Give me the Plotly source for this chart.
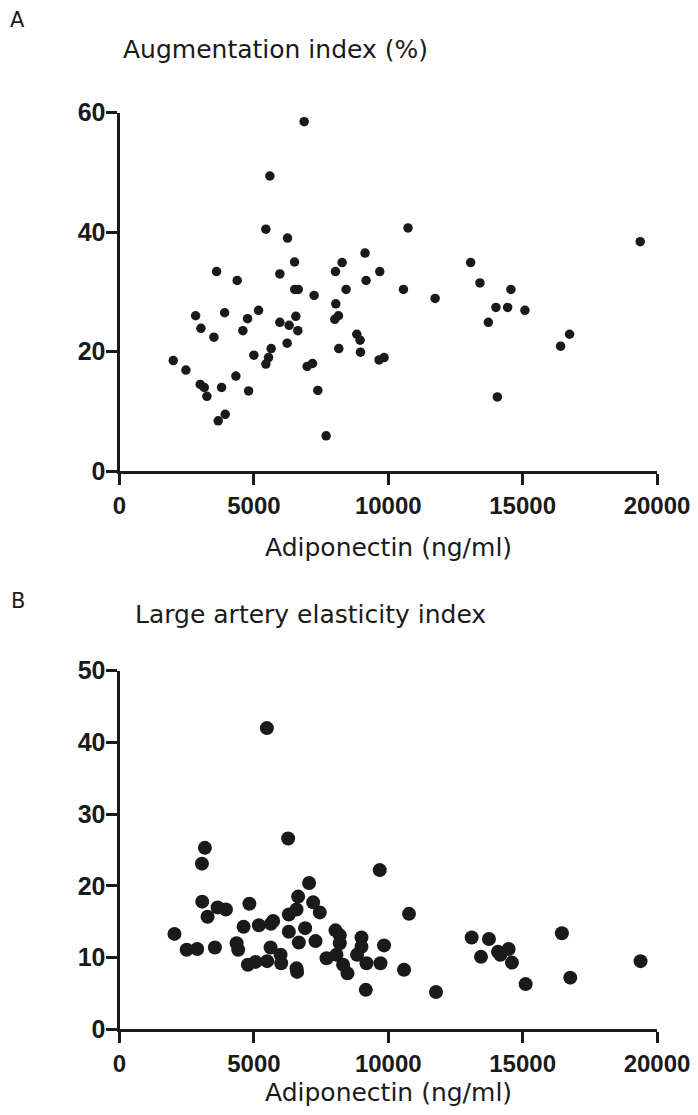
import plotly.graph_objects as go

# ---- Panel A: Augmentation index (%) vs Adiponectin (ng/ml)
adiponectin_a = [6870, 5595, 5446, 6252, 3613, 4380, 6513, 5967, 6520, 6650,
                 2833, 3911, 5174, 4766, 3030, 4591, 3513, 5967, 6312, 6561,
                 6636, 6238, 5643, 5546, 5446, 5000, 2000, 2472, 3004, 3153,
                 3253, 3799, 4331, 4803, 3934, 3673, 7242, 6981, 7182, 7379,
                 7688, 8037, 8283, 8432, 8048, 8011, 8148, 8160, 9138, 9175,
                 9684, 10565, 11744, 8829, 8952, 8967, 9658, 9844, 13067, 13413,
                 14007, 13725, 14059, 19375, 14565, 14442, 15086, 16747, 16413, 10736]
aix_a = [58.5, 49.4, 40.5, 39.0, 33.4, 31.9, 35.0, 33.0, 30.4, 30.4,
         26.0, 26.5, 26.9, 25.5, 23.9, 23.5, 22.4, 24.9, 24.4, 25.9,
         23.5, 21.4, 20.5, 19.0, 17.9, 19.4, 18.5, 16.9, 14.5, 14.0,
         12.5, 14.0, 15.9, 13.4, 9.5, 8.4, 29.4, 17.5, 18.0, 13.5,
         5.9, 33.4, 34.9, 30.4, 28.0, 25.4, 26.0, 20.5, 36.5, 31.9,
         33.4, 30.4, 28.9, 22.9, 21.9, 19.9, 18.6, 19.0, 34.9, 31.5,
         27.4, 24.9, 12.4, 38.4, 30.4, 27.4, 26.9, 22.9, 20.9, 40.7]

# ---- Panel B: Large artery elasticity index vs Adiponectin (ng/ml)
adiponectin_b = [5483, 6275, 3178, 3067, 3078, 3277, 3650, 3959, 4833, 2045,
                 2498, 2892, 3550, 4357, 4417, 4617, 5186, 5632, 5718, 5621,
                 4777, 5063, 5494, 5993, 6015, 6587, 6610, 6301, 6587, 6647,
                 6301, 6673, 9684, 10773, 7055, 7205, 7453, 6907, 7294, 8037,
                 8197, 7703, 8074, 8197, 8320, 8483, 9004, 9004, 8840, 9190,
                 9164, 9844, 9710, 10587, 11777, 13104, 13747, 13450, 14082, 14171,
                 14480, 14602, 16461, 15112, 16773, 19387]
laei_b = [42.0, 26.6, 25.3, 23.1, 17.8, 15.7, 17.0, 16.7, 17.5, 13.3,
          11.1, 11.2, 11.4, 12.0, 11.1, 14.3, 14.5, 14.7, 15.1, 11.4,
          9.0, 9.4, 9.5, 10.4, 9.2, 8.5, 8.0, 16.0, 16.7, 18.5,
          13.6, 12.1, 22.2, 16.1, 20.4, 17.7, 16.3, 14.1, 12.3, 13.8,
          13.1, 9.9, 10.4, 12.0, 9.0, 7.8, 12.8, 11.5, 10.4, 9.2,
          5.5, 11.7, 9.2, 8.3, 5.2, 12.8, 12.6, 10.1, 10.8, 10.4,
          11.2, 9.3, 13.4, 6.3, 7.2, 9.5]

x_ticks = [0, 5000, 10000, 15000, 20000]
y_ticks_a = [0, 20, 40, 60]
y_ticks_b = [0, 10, 20, 30, 40, 50]

# page has an 8px body margin: size the figure so it fits the 698x1115 window
OFF = 8
W, H = 698 - 2 * OFF, 1115 - 2 * OFF
INK = "#1a1a1a"
FONT = "DejaVu Sans"
TICKFONT = "Liberation Sans, Arial, sans-serif"


def px(rx):
    return (rx - OFF) / W


def py(ry):
    return 1 - (ry - OFF) / H


fig = go.Figure()
fig.add_trace(go.Scatter(x=adiponectin_a, y=aix_a, mode="markers",
                         marker=dict(size=9.5, color=INK), xaxis="x", yaxis="y",
                         showlegend=False))
fig.add_trace(go.Scatter(x=adiponectin_b, y=laei_b, mode="markers",
                         marker=dict(size=14, color=INK), xaxis="x2", yaxis="y2",
                         showlegend=False))

xdom = [px(119.5), px(657)]
common_axis = dict(showgrid=False, zeroline=False, showline=True, linecolor=INK,
                   linewidth=3, ticks="outside", ticklen=11, tickwidth=3,
                   tickcolor=INK, automargin=False, ticklabeloverflow="allow")
xfont = dict(family=TICKFONT, size=24, color=INK)
yfont = dict(family=TICKFONT, size=25, color=INK)


def bold(vals):
    return [f"<b>{v}</b>" for v in vals]


fig.update_layout(
    width=W, height=H,
    margin=dict(l=0, r=0, t=0, b=0),
    paper_bgcolor="white", plot_bgcolor="white",
    font=dict(family=FONT, color=INK),
    xaxis=dict(domain=xdom, range=[0, 20000], tickvals=x_ticks, tickfont=xfont,
               ticktext=bold(x_ticks), anchor="y", **common_axis),
    yaxis=dict(domain=[py(471), py(112.7)], range=[0, 60], tickvals=y_ticks_a, tickfont=yfont,
               ticktext=bold(y_ticks_a), anchor="x", ticklabelstandoff=-5, **common_axis),
    xaxis2=dict(domain=xdom, range=[0, 20000], tickvals=x_ticks, tickfont=xfont,
                ticktext=bold(x_ticks), anchor="y2", **common_axis),
    yaxis2=dict(domain=[py(1029.3), py(670.7)], range=[0, 50], tickvals=y_ticks_b, tickfont=yfont,
                ticktext=bold(y_ticks_b), anchor="x2", ticklabelstandoff=-5, **common_axis),
)


def ann(text, rx, ry, size, xanchor="left"):
    fig.add_annotation(text=text, x=px(rx), y=py(ry), xref="paper", yref="paper",
                       xanchor=xanchor, yanchor="middle", showarrow=False,
                       font=dict(family=FONT, size=size, color=INK))


ann("A", 8, 20, 21)
ann("Augmentation index (%)", 121, 49, 25)
ann("Adiponectin (ng/ml)", 389, 547, 25, xanchor="center")
ann("B", 9, 601, 21)
ann("Large artery elasticity index", 133, 614, 25)
ann("Adiponectin (ng/ml)", 389, 1092, 25, xanchor="center")

fig.write_html("out.html")
